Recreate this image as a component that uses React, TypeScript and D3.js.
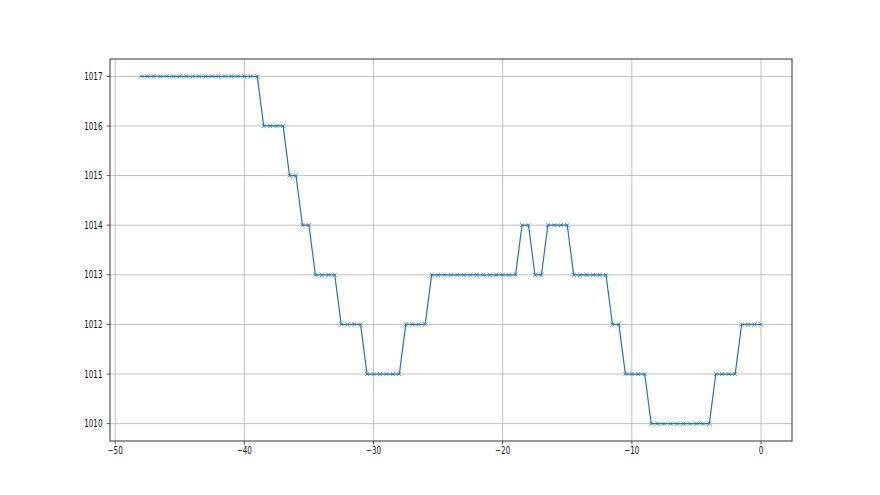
import React from "react";
import * as d3 from "d3";

const xStart = -48;
const xStep = 0.5;
// pressure values, one per half-unit from -48 to 0
const runValues = [1017, 1016, 1015, 1014, 1013, 1012, 1011, 1012, 1013, 1014, 1013, 1014, 1013, 1012, 1011, 1010, 1011, 1012];
const runLengths = [19, 4, 2, 2, 4, 4, 6, 4, 14, 2, 2, 4, 6, 2, 4, 10, 4, 4];
const values: number[] = [];
runValues.forEach((v, i) => {
  for (let k = 0; k < runLengths[i]; k++) values.push(v);
});
const xValues = values.map((_, i) => xStart + i * xStep);
const xTicks = [-50, -40, -30, -20, -10, 0];
const yTicks = [1010, 1011, 1012, 1013, 1014, 1015, 1016, 1017];

const W = 880, H = 495;
const L = 110, R = 792, T = 59, B = 441;
const SX = 0.72;
const FS = 10;

export default function App() {
  const x = d3.scaleLinear().domain([-50.4, 2.4]).range([L, R]);
  const y = d3.scaleLinear().domain([1009.65, 1017.35]).range([B, T]);
  const pts: [number, number][] = values.map((v, i) => [x(xValues[i]), y(v)]);
  const line = d3.line()(pts) || "";
  const m = 2.1;
  return (
    <svg width={W} height={H} style={{ position: "absolute", left: 0, top: 0, background: "#fff" }}>
      <rect x={0} y={0} width={W} height={H} fill="#fff" />
      {xTicks.map((t) => (
        <line key={"gx" + t} x1={x(t)} x2={x(t)} y1={T} y2={B} stroke="#b0b0b0" strokeWidth={0.8} />
      ))}
      {yTicks.map((t) => (
        <line key={"gy" + t} x1={L} x2={R} y1={y(t)} y2={y(t)} stroke="#b0b0b0" strokeWidth={0.8} />
      ))}
      <path d={line} fill="none" stroke="#1f77b4" strokeWidth={1.2} />
      {pts.map(([px, py], i) => (
        <path key={i} d={`M${px - m},${py - m}L${px + m},${py + m}M${px - m},${py + m}L${px + m},${py - m}`}
          stroke="#1f77b4" strokeWidth={0.9} strokeOpacity={0.8} fill="none" />
      ))}
      <rect x={L} y={T} width={R - L} height={B - T} fill="none" stroke="#333" strokeWidth={1} />
      {xTicks.map((t) => (
        <g key={"tx" + t}>
          <line x1={x(t)} x2={x(t)} y1={B} y2={B + 3.5} stroke="#333" strokeWidth={0.8} />
          <text transform={`translate(${x(t)},${B + 13}) scale(${SX},1)`} textAnchor="middle"
            fontFamily="DejaVu Sans" fontSize={FS} fill="#111">{t < 0 ? "\u2212" + Math.abs(t) : String(t)}</text>
        </g>
      ))}
      {yTicks.map((t) => (
        <g key={"ty" + t}>
          <line x1={L - 3.5} x2={L} y1={y(t)} y2={y(t)} stroke="#333" strokeWidth={0.8} />
          <text transform={`translate(${L - 7.5},${y(t) + 3.6}) scale(${SX},1)`} textAnchor="end"
            fontFamily="DejaVu Sans" fontSize={FS} fill="#111">{t}</text>
        </g>
      ))}
    </svg>
  );
}
